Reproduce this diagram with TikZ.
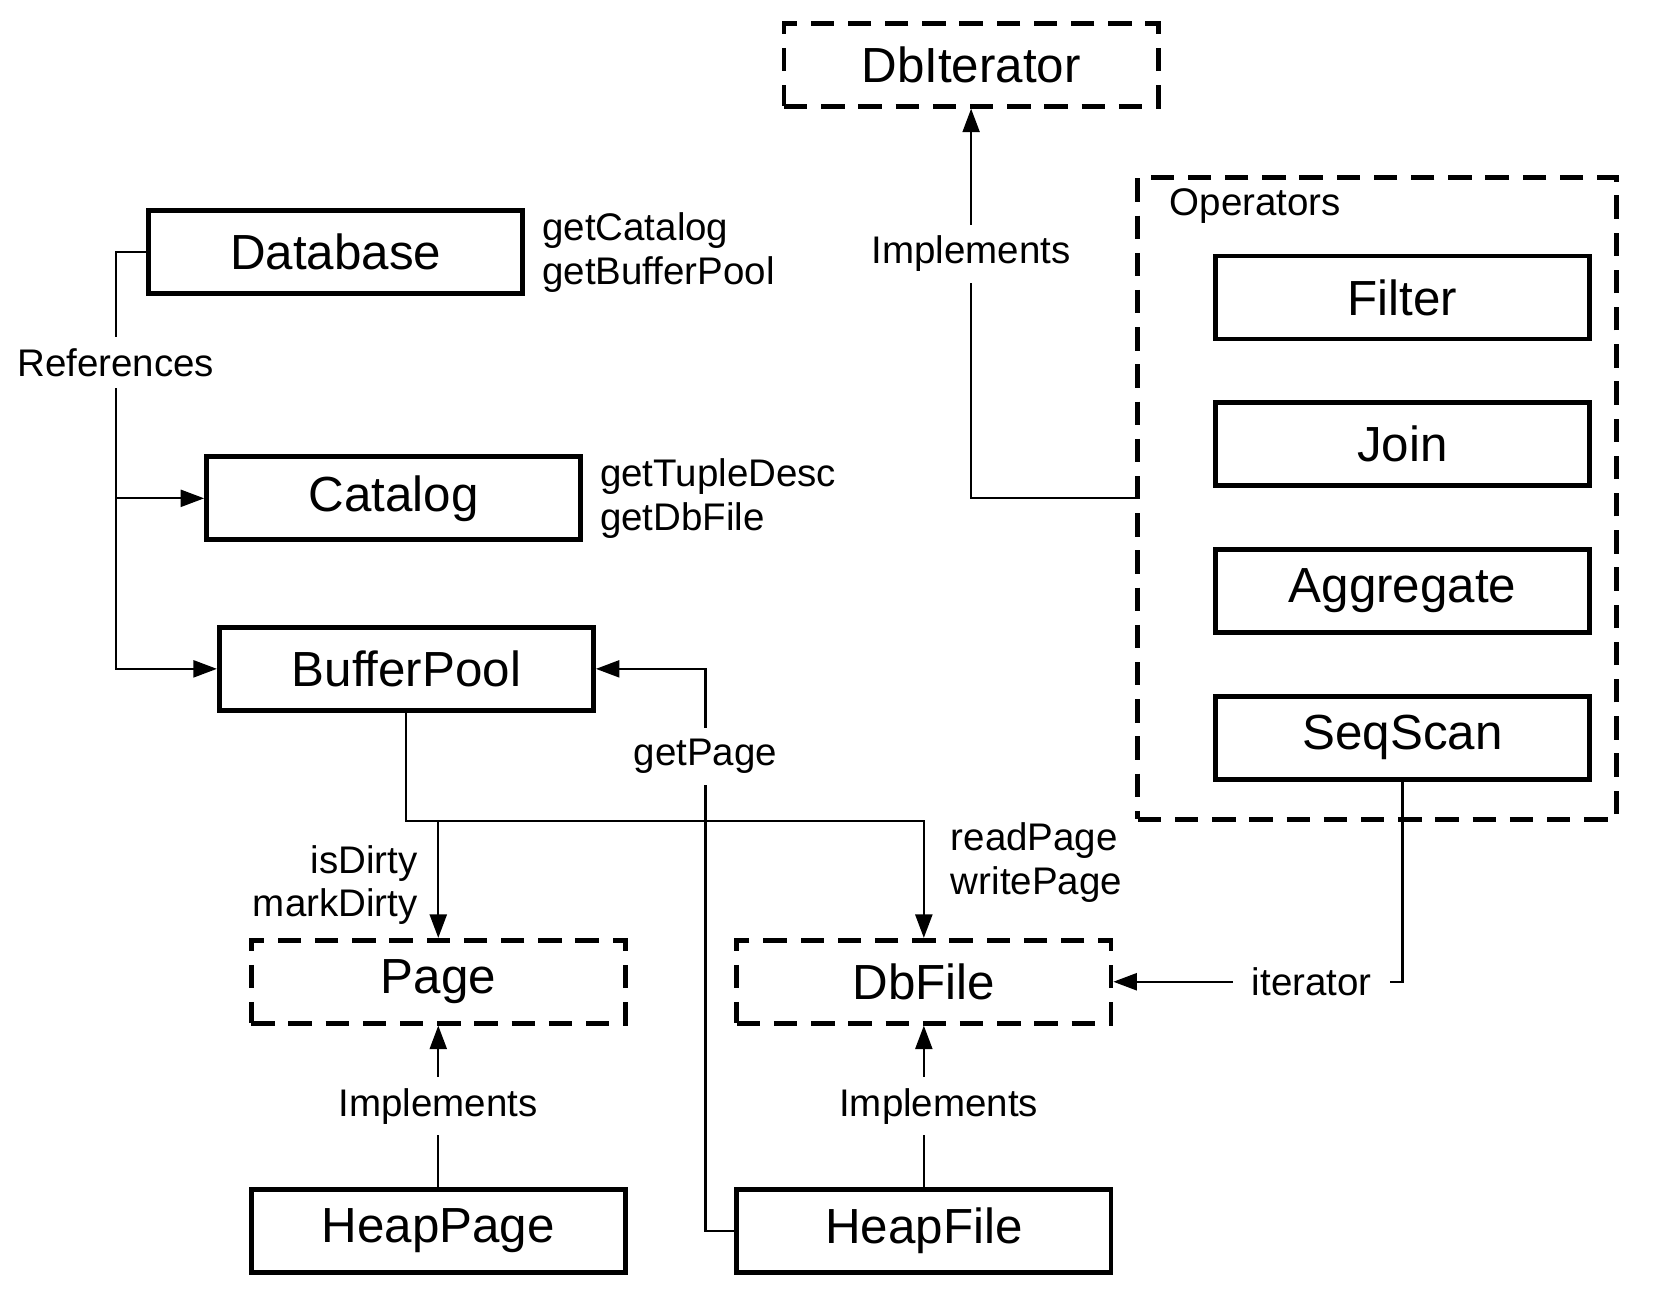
\documentclass[tikz,border=0pt]{standalone}
\usepackage{fontspec}
\setmainfont{Liberation Sans}
\usetikzlibrary{
        arrows.meta,
        positioning
    }
\tikzset{>={Triangle[length=2.2mm,width=1.6mm]}}
\tikzset{
    cls/.style={draw, line width=1.3pt, minimum width=3.52cm, minimum height=0.78cm,
        font=\fontsize{13.2}{15}\selectfont},
    iface/.style={cls, dash pattern=on 0.22cm off 0.13cm},
    group/.style={draw, line width=1.3pt, dash pattern=on 0.22cm off 0.13cm,
        minimum width=4.5cm, minimum height=6.04cm},
    lbl/.style={font=\fontsize{10.3}{11.7}\selectfont, inner sep=0pt, align=left},
    tag/.style={lbl, fill=white, inner sep=3pt}
}

\begin{document}
\begin{tikzpicture}[x=0.01cm, y=-0.01cm, line width=0.55pt]
                \useasboundingbox (0,0) rectangle (1568,1229);
                % classes and interfaces
                \node[iface] (dbiterator) at (914,61) {DbIterator};
                \node[cls] (database) at (316,237.5) {Database};
                \node[cls] (catalog) at (370.5,469) {Catalog};
                \node[cls] (bufferpool) at (382.5,629.5) {BufferPool};
                \node[iface] (page) at (412.5,924) {Page};
                \node[iface] (dbfile) at (869.5,924) {DbFile};
                \node[cls] (heappage) at (412.5,1158.5) {HeapPage};
                \node[cls] (heapfile) at (869.5,1158.5) {HeapFile};
                % operators
                \node[group] (ops) at (1296,469) {};
                \node[lbl, anchor=west] (opslbl) at (1100,194) {Operators};
                \node[cls] (filter) at (1320,280) {Filter};
                \node[cls] (join) [on grid, below=1.38cm of filter] {Join};
                \node[cls] (aggregate) [on grid, below=1.38cm of join] {Aggregate};
                \node[cls] (seqscan) [on grid, below=1.38cm of aggregate] {SeqScan};
                % method names
                \node[lbl, right=0.15cm of database] (dbcalls) {getCatalog\\getBufferPool};
                \node[lbl, right=0.15cm of catalog] (catcalls) {getTupleDesc\\getDbFile};
                \node[lbl, align=right, anchor=east] (pagecalls) at (394,833) {isDirty\\markDirty};
                \node[lbl, anchor=west] (filecalls) at (894,811.5) {readPage\\writePage};
                % references
                \coordinate (refs) at (109,237.5);
                \draw[->] (database.west) -- (refs) |- (bufferpool.west);
                \draw[->] (refs |- catalog.west) -- (catalog.west);
                \node[tag] (reflbl) at (109,341) {References};
                % buffer pool
                \coordinate (bend) at (bufferpool.south |- 0,773);
                \draw[->] (bufferpool.south) -- (bend) -| (dbfile.north);
                \draw[->] (page.north |- bend) -- (page.north);
                \coordinate (gp) at (664,1158.5);
                \draw[->] (heapfile.west) -- (gp) |- (bufferpool.east);
                \node[tag] (getpage) at (664,712) {getPage};
                % implements
                \path[->]
                    (heappage) edge node[tag] {Implements} (page)
                    (heapfile) edge node[tag, xshift=0.14cm] {Implements} (dbfile);
                \draw[->] (ops.west) -| node[tag, pos=0.814] {Implements} (dbiterator.south);
                \draw[->] (seqscan.south) |- node[tag, pos=0.657, inner xsep=5pt] {iterator} (dbfile.east);
            \end{tikzpicture}
\end{document}
